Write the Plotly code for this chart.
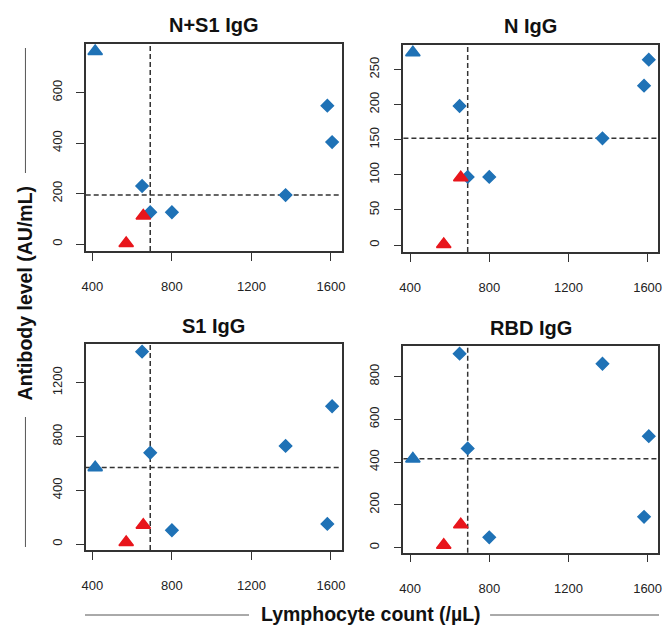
import numpy as np
import plotly.graph_objects as go

# ---- data (one patient per position) ----
lymphocyte = [414, 570, 650, 656, 691, 800, 1372, 1582, 1606]
group = ["tri_blue", "tri_red", "dia", "tri_red", "dia", "dia", "dia", "dia", "dia"]

panel_titles = ["N+S1 IgG", "N IgG", "S1 IgG", "RBD IgG"]
ns1_igg = [763, 3, 230, 112, 126, 126, 194, 548, 404]
n_igg = [274, 1, 198, 96, 97, 97, 152, 227, 264]
s1_igg = [570, 13, 1431, 142, 679, 103, 730, 150, 1025]
rbd_igg = [415, 12, 907, 108, 464, 48, 860, 144, 521]

x_ticks = [400, 800, 1200, 1600]
y_ticks = [[0, 200, 400, 600], [0, 50, 100, 150, 200, 250],
           [0, 400, 800, 1200], [0, 200, 400, 600, 800]]

series = [ns1_igg, n_igg, s1_igg, rbd_igg]

BLUE = "#1f72b6"
RED = "#e8161c"
INK = "#333333"
FONT = "Arial, Liberation Sans, sans-serif"
W, H = 664, 626

# panel boxes in pixels (left, right, top, bottom)
boxes = [(82.7, 341.7, 43.7, 251), (404.3, 662.2, 45, 252),
         (82.7, 341.7, 344, 550), (404.3, 662.2, 346, 552.7)]


def rrange(v):
    lo, hi = min(v), max(v)
    d = (hi - lo) * 0.04
    return [lo - d, hi + d]


fig = go.Figure()
shapes = []
annotations = []

for i, (vals, title, yt, box) in enumerate(zip(series, panel_titles, y_ticks, boxes)):
    n = "" if i == 0 else str(i + 1)
    xa, ya = "x" + n, "y" + n
    l, r, t, b = box
    fig.update_layout(**{
        "xaxis" + n: dict(
            domain=[l / W, r / W], anchor=ya, range=rrange(lymphocyte),
            tickvals=x_ticks, ticks="outside", ticklen=8, tickwidth=1.3,
            tickcolor=INK, showline=True, linecolor=INK, linewidth=1.5,
            mirror=True, showgrid=False, zeroline=False,
            tickfont=dict(family=FONT, size=13, color="#222"),
            ticklabelstandoff=15),
        "yaxis" + n: dict(
            domain=[1 - b / H, 1 - t / H], anchor=xa, range=rrange(vals),
            tickvals=yt, ticks="outside", ticklen=8, tickwidth=1.3,
            tickcolor=INK, showline=True, linecolor=INK, linewidth=1.5,
            mirror=True, showgrid=False, zeroline=False, tickangle=-90,
            tickfont=dict(family=FONT, size=13, color="#222"),
            ticklabelstandoff=9),
    })
    xs = np.array(lymphocyte)
    ys = np.array(vals)
    g = np.array(group)
    for key, sym, col, size, lw in [("dia", "diamond", BLUE, 9.5, 1.4),
                                    ("tri_blue", "triangle-up", BLUE, 12.5, 1.6),
                                    ("tri_red", "triangle-up", RED, 12.5, 1.6)]:
        m = g == key
        fig.add_trace(go.Scatter(
            x=xs[m], y=ys[m], mode="markers", xaxis=xa, yaxis=ya,
            showlegend=False, hoverinfo="skip",
            marker=dict(symbol=sym, size=size, color=col,
                        line=dict(color=col, width=lw))))
    # median cut lines
    shapes.append(dict(type="line", xref=xa, yref=ya + " domain",
                       x0=float(np.median(xs)), x1=float(np.median(xs)), y0=0, y1=1,
                       line=dict(color=INK, width=1.5, dash="5px,3px"), layer="below"))
    shapes.append(dict(type="line", xref=xa + " domain", yref=ya,
                       x0=0, x1=1, y0=float(np.median(ys)), y1=float(np.median(ys)),
                       line=dict(color=INK, width=1.5, dash="5px,3px"), layer="below"))
    annotations.append(dict(
        text="<b>%s</b>" % title, xref="paper", yref="paper",
        x=(l + r) / 2 / W, y=1 - (t - 18.5) / H, xanchor="center", yanchor="middle",
        showarrow=False, font=dict(family=FONT, size=20, color="#111")))

# common axis titles with decorative rules
annotations.append(dict(
    text="<b>Antibody level (AU/mL)</b>", xref="paper", yref="paper",
    x=21.7 / W, y=1 - 293 / H, textangle=-90, xanchor="center", yanchor="middle",
    showarrow=False, font=dict(family=FONT, size=19.5, color="#111")))
annotations.append(dict(
    text="<b>Lymphocyte count (/µL)</b>", xref="paper", yref="paper",
    x=371 / W, y=1 - 613.5 / H, xanchor="center", yanchor="middle",
    showarrow=False, font=dict(family=FONT, size=19.5, color="#111")))

rule = dict(color="#555555", width=1)
for (x0, y0, x1, y1) in [(21.7, 48, 21.7, 173), (21.7, 417, 21.7, 547),
                         (82, 615, 248, 615), (492, 615, 663, 615)]:
    shapes.append(dict(type="line", xref="paper", yref="paper",
                       x0=x0 / W, x1=x1 / W, y0=1 - y0 / H, y1=1 - y1 / H, line=rule))

fig.update_layout(width=W, height=H, margin=dict(l=0, r=0, t=0, b=0),
                  paper_bgcolor="white", plot_bgcolor="white",
                  shapes=shapes, annotations=annotations)

fig.write_html("out.html", config={"displayModeBar": False},
               post_script="document.body.style.margin='0';"
                           "document.body.style.overflow='hidden';")
